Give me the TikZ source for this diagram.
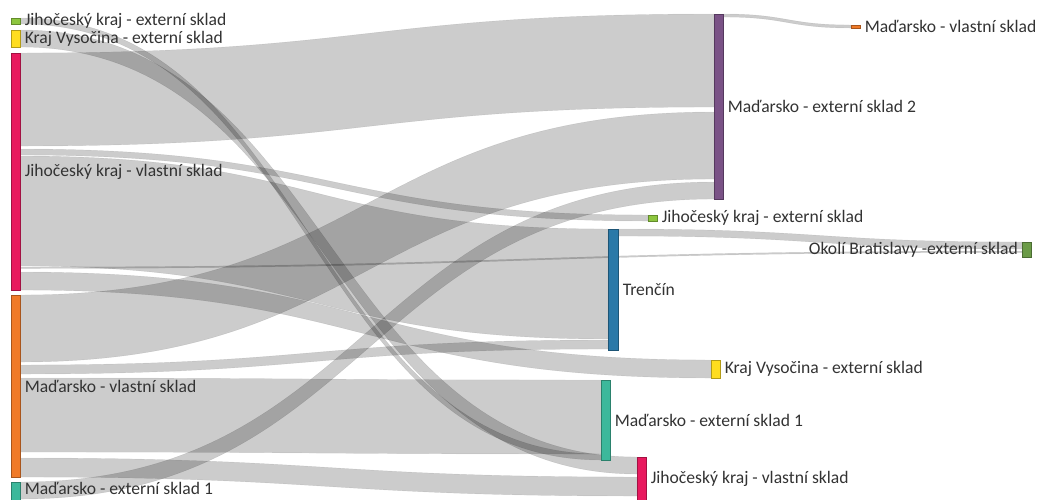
\documentclass[tikz,border=0pt]{standalone}
\usepackage{fontspec}
\setmainfont{Carlito}
\usepackage{tikz}
\usetikzlibrary{calc}
\pgfdeclarelayer{background}
\pgfsetlayers{background,main}
\definecolor{jkgreen}{HTML}{8DC63F}
\definecolor{kvyellow}{HTML}{FFDD1F}
\definecolor{jkvpink}{HTML}{E8195E}
\definecolor{mvorange}{HTML}{F07A28}
\definecolor{meteal}{HTML}{3CB89B}
\definecolor{mepurple}{HTML}{7A5286}
\definecolor{trblue}{HTML}{2A79A8}
\definecolor{okgreen}{HTML}{6B9B47}
\newcommand{\lblfont}{\fontsize{17.6}{20}\selectfont}
\newcommand{\linkband}[5]{%
  \path[band] let \p1=($(#1.north east)+(0,#2)$), \p2=($(#4.north west)+(0,#5)$),
    \n1={(\x2-\x1)/2} in
    (\p1) .. controls +(\n1,0) and +(-\n1,0) .. (\p2) -- ($(\p2)+(0,#3)$)
    .. controls +(-\n1,0) and +(\n1,0) .. ($(\p1)+(0,#3)$) -- cycle;}
\tikzset{
  sankey/.style={x=1pt,y=-1pt,
    every label/.style={font=\lblfont,text=black!80,inner sep=0pt},
    label distance=4pt},
  bar/.style={rectangle,draw=#1!70!black,fill=#1,line width=0.6pt,
    inner sep=0pt,minimum width=9pt,anchor=north west},
  band/.style={fill=black,fill opacity=0.2,draw=black,draw opacity=0.1,line width=0.4pt}
}
\begin{document}
\begin{tikzpicture}[sankey]
  \useasboundingbox (0,0) rectangle (1040,499);
  \node[bar=jkgreen,minimum height=6pt,label=right:{Jihočeský kraj - externí sklad}] (jkeL) at (11,18) {};
  \node[bar=kvyellow,minimum height=17pt,label=right:{Kraj Vysočina - externí sklad}] (kvL) at (11,30) {};
  \node[bar=jkvpink,minimum height=237pt,label=right:{Jihočeský kraj - vlastní sklad}] (jkvL) at (11,53) {};
  \node[bar=mvorange,minimum height=182pt,label=right:{Maďarsko - vlastní sklad}] (mvL) at (11,295) {};
  \node[bar=meteal,minimum height=18pt,label={[yshift=2.5pt]right:{Maďarsko - externí sklad 1}}] (meaL) at (11,482) {};
  \node[bar=mepurple,minimum height=185pt,label=right:{Maďarsko - externí sklad 2}] (meb) at (714,14) {};
  \node[bar=mvorange,minimum height=3pt,label=right:{Maďarsko - vlastní sklad}] (mvR) at (851,25) {};
  \node[bar=jkgreen,minimum height=6pt,label=right:{Jihočeský kraj - externí sklad}] (jkeR) at (648,215) {};
  \node[bar=trblue,minimum width=10pt,minimum height=121pt,label=right:{Trenčín}] (tr) at (608,229) {};
  \node[bar=okgreen,minimum height=15pt,label=left:{Okolí Bratislavy -externí sklad}] (ok) at (1022,242) {};
  \node[bar=kvyellow,minimum height=18pt,label=right:{Kraj Vysočina - externí sklad}] (kvR) at (711,360) {};
  \node[bar=meteal,minimum height=80pt,label=right:{Maďarsko - externí sklad 1}] (meaR) at (601,380) {};
  \node[bar=jkvpink,minimum height=43pt,label=right:{Jihočeský kraj - vlastní sklad}] (jkvR) at (637,457) {};
  \begin{pgfonlayer}{background}
    \linkband{jkvL}{0}{93}{meb}{0}
    \linkband{mvL}{0}{67}{meb}{98}
    \linkband{meaL}{0}{17}{meb}{168}
    \linkband{meb}{0}{3}{mvR}{0}
    \linkband{jkeL}{0}{6}{meaR}{74}
    \linkband{kvL}{0}{17}{jkvR}{0}
    \linkband{jkvL}{96}{6}{jkeR}{0}
    \linkband{jkvL}{103}{110}{tr}{0}
    \linkband{jkvL}{214}{1.5}{ok}{9}
    \linkband{jkvL}{219}{18}{kvR}{0}
    \linkband{tr}{0}{7}{ok}{0}
    \linkband{mvL}{70}{9}{tr}{111}
    \linkband{mvL}{83}{74}{meaR}{0}
    \linkband{mvL}{163}{19}{jkvR}{20}
  \end{pgfonlayer}
\end{tikzpicture}
\end{document}
